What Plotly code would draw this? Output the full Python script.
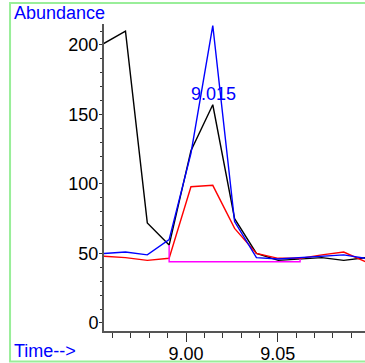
import plotly.graph_objects as go

# Scan times (min)
times = [8.9551, 8.9670, 8.9789, 8.9908, 9.0027, 9.0146, 9.0265,
         9.0384, 9.0503, 9.0622, 9.0741, 9.0860, 9.0979]
# Ion abundances
black_ion = [201, 210, 72, 56, 124, 157, 75, 50, 45, 46, 47, 45, 47]
blue_ion = [50, 51, 49, 60, 122, 214, 73, 47, 46, 47, 48, 49, 46.5]
red_ion = [48, 47, 45, 46.5, 98, 99, 68, 50, 46.5, 46.5, 49, 51, 44]
# Integration baseline
base_t = [8.9908, 8.9908, 9.0622, 9.0622]
base_y = [56, 44, 44, 46]
# Peak label
peak_time = 9.015
peak_label = "9.015"
peak_label_y = 165

FONT = "Liberation Sans, Arial, sans-serif"

fig = go.Figure()
fig.add_trace(go.Scatter(x=times, y=black_ion, mode="lines",
                         line=dict(color="#000000", width=1.4)))
fig.add_trace(go.Scatter(x=times, y=red_ion, mode="lines",
                         line=dict(color="#ff0000", width=1.4)))
fig.add_trace(go.Scatter(x=times, y=blue_ion, mode="lines",
                         line=dict(color="#0000ff", width=1.4)))
fig.add_trace(go.Scatter(x=base_t, y=base_y, mode="lines",
                         line=dict(color="#ff00ff", width=1.4)))

fig.add_annotation(x=peak_time, y=peak_label_y, text=peak_label, showarrow=False,
                   font=dict(family=FONT, size=18, color="#0000ff"),
                   xanchor="center", yanchor="middle")
fig.add_annotation(xref="paper", yref="paper", x=-0.3525, y=1.036,
                   text="Abundance", showarrow=False, xanchor="left", yanchor="middle",
                   font=dict(family=FONT, size=18, color="#0000ff"))
fig.add_annotation(xref="paper", yref="paper", x=-0.3525, y=-0.065,
                   text="Time-->", showarrow=False, xanchor="left", yanchor="middle",
                   font=dict(family=FONT, size=18, color="#0000ff"))

# green frame
fig.add_shape(type="rect", xref="paper", yref="paper",
              x0=-0.36, x1=1.05, y0=-0.099, y1=1.068,
              line=dict(color="#99ee99", width=2), layer="below")

fig.update_layout(
    width=365, height=363,
    margin=dict(l=104, r=0, t=24, b=32, autoexpand=False),
    paper_bgcolor="white", plot_bgcolor="white",
    showlegend=False,
    font=dict(family=FONT, size=18, color="#000000"),
)
fig.update_xaxes(
    range=[8.95529, 9.0976], automargin=False,
    showgrid=False, zeroline=False,
    showline=True, linecolor="#555555", linewidth=2,
    ticks="outside", ticklen=9, tickcolor="#333333", tickwidth=1,
    tick0=9.0, dtick=0.05, tickformat=".2f", ticklabelstandoff=-4,
    minor=dict(ticks="outside", ticklen=5, dtick=0.01, tick0=9.0,
               tickcolor="#333333", tickwidth=1, showgrid=False),
    tickfont=dict(family=FONT, size=18, color="#000000"),
)
fig.update_yaxes(
    range=[-5.8, 215.1], automargin=False,
    showgrid=False, zeroline=False,
    showline=True, linecolor="#555555", linewidth=2,
    ticks="outside", ticklen=3, tickcolor="#333333", tickwidth=1,
    tick0=0, dtick=50, ticklabelstandoff=-3,
    minor=dict(ticks="outside", ticklen=2, dtick=10, tick0=0,
               tickcolor="#333333", tickwidth=1, showgrid=False),
    tickfont=dict(family=FONT, size=18, color="#000000"),
)

fig.write_html("out.html", config={"displayModeBar": False},
               post_script="document.body.style.margin='0';document.body.style.overflow='hidden';")
